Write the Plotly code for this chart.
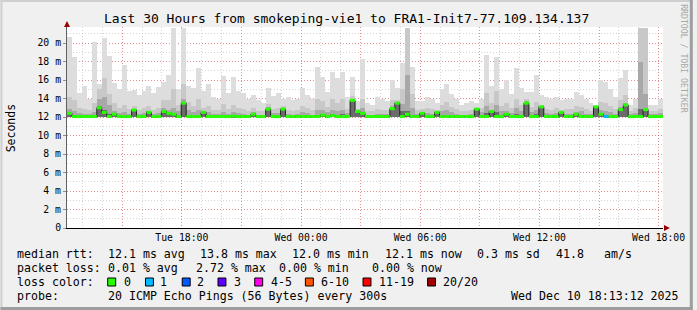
import plotly.graph_objects as go
import pandas as pd

# ---------------- data ----------------
START = "2025-12-09 12:13:12"
END = "2025-12-10 18:13:12"
STEP_MIN = 15

rtt_max = [
    20.7, 18.5, 14.6, 15.3, 14.0, 20.1, 15.6, 20.5, 18.6, 15.7,
    15.0, 17.6, 14.8, 14.9, 14.4, 14.8, 15.4, 14.6, 15.2, 15.8,
    16.5, 21.6, 15.0, 21.6, 15.4, 15.1, 17.3, 14.8, 15.6, 14.2,
    14.0, 16.4, 14.6, 16.3, 14.8, 14.6, 14.0, 14.4, 13.8, 13.5,
    15.1, 14.3, 14.6, 14.0, 14.2, 13.8, 14.0, 15.1, 14.4, 13.9,
    17.4, 16.3, 14.7, 16.9, 16.2, 16.9, 14.2, 16.3, 13.7, 18.3,
    13.5, 13.3, 14.2, 13.9, 13.7, 16.0, 15.1, 17.8, 21.6, 17.4,
    13.7, 13.7, 14.2, 14.0, 13.5, 15.0, 15.6, 14.5, 14.0, 13.3,
    13.5, 13.7, 13.5, 14.0, 18.7, 15.4, 18.5, 15.0, 16.0, 14.5,
    17.3, 15.1, 14.7, 14.7, 16.5, 14.4, 14.2, 14.0, 14.2, 13.8,
    14.0, 14.0, 14.7, 14.4, 14.0, 13.5, 13.3, 16.0, 15.8, 15.0,
    14.2, 16.2, 17.1, 13.3, 14.0, 21.6, 21.6, 13.3, 13.3, 14.0,
]
rtt_p19 = [
    14.2, 13.8, 13.0, 12.9, 12.8, 13.5, 15.0, 16.2, 14.5, 13.5,
    13.0, 13.3, 12.9, 13.2, 12.8, 13.0, 13.2, 12.8, 13.0, 13.8,
    13.8, 15.0, 13.3, 15.6, 13.6, 13.2, 14.0, 13.0, 13.2, 12.8,
    12.8, 13.4, 12.9, 13.3, 13.0, 12.9, 12.7, 13.0, 12.7, 12.7,
    13.4, 12.9, 13.0, 13.2, 12.8, 12.7, 12.8, 13.2, 13.0, 12.8,
    14.0, 13.7, 13.1, 13.9, 13.5, 14.0, 12.9, 14.3, 12.9, 14.0,
    12.7, 12.6, 12.9, 12.8, 12.8, 13.8, 13.8, 15.0, 21.6, 14.5,
    12.8, 12.9, 13.0, 12.9, 12.8, 13.3, 13.6, 13.1, 12.9, 12.6,
    12.7, 12.8, 12.9, 13.0, 14.6, 13.5, 14.8, 13.2, 13.5, 13.0,
    14.0, 13.3, 13.9, 13.1, 13.6, 13.3, 12.9, 12.8, 13.0, 12.8,
    12.9, 12.9, 13.2, 13.1, 12.9, 12.7, 13.0, 13.6, 13.5, 13.2,
    12.9, 13.8, 14.4, 12.7, 13.0, 21.6, 21.6, 12.7, 12.7, 12.9,
]
rtt_p17 = [
    12.9, 12.6, 12.4, 12.3, 12.3, 12.5, 14.0, 14.2, 13.3, 12.6,
    12.4, 12.5, 12.3, 12.9, 12.3, 12.4, 12.7, 12.3, 12.4, 13.0,
    12.8, 13.0, 12.6, 14.0, 12.8, 12.5, 12.8, 12.7, 12.5, 12.3,
    12.3, 12.5, 12.3, 12.5, 12.4, 12.3, 12.2, 12.5, 12.2, 12.2,
    13.1, 12.4, 12.4, 13.0, 12.3, 12.2, 12.3, 12.5, 12.4, 12.2,
    12.8, 12.8, 12.5, 12.8, 12.6, 12.8, 12.4, 14.0, 12.8, 13.0,
    12.2, 12.2, 12.3, 12.3, 12.3, 13.2, 13.6, 13.4, 16.5, 13.0,
    12.3, 12.5, 12.4, 12.3, 12.6, 12.6, 12.8, 12.5, 12.3, 12.2,
    12.2, 12.3, 13.0, 12.5, 13.2, 12.8, 13.3, 12.6, 12.6, 12.4,
    13.0, 12.6, 13.7, 12.5, 12.8, 13.2, 12.4, 12.3, 12.4, 12.6,
    12.3, 12.3, 12.5, 12.6, 12.3, 12.3, 13.1, 12.8, 12.6, 12.5,
    12.3, 13.1, 13.5, 12.3, 12.4, 18.0, 14.5, 12.3, 12.3, 12.4,
]
rtt_p14 = [
    12.5, 12.1, 12.0, 12.0, 12.0, 12.1, 13.2, 12.8, 12.3, 12.4,
    12.1, 12.1, 12.0, 12.8, 12.0, 12.1, 12.6, 12.0, 12.1, 12.7,
    12.5, 12.4, 12.1, 13.6, 12.2, 12.1, 12.2, 12.6, 12.1, 12.0,
    12.0, 12.1, 12.0, 12.1, 12.0, 12.0, 12.0, 12.3, 12.0, 12.0,
    12.9, 12.1, 12.0, 12.9, 12.0, 12.0, 12.0, 12.1, 12.1, 12.0,
    12.2, 12.3, 12.1, 12.3, 12.2, 12.3, 12.1, 13.9, 12.7, 12.5,
    12.0, 12.0, 12.0, 12.0, 12.0, 13.0, 13.5, 12.6, 12.6, 12.2,
    12.0, 12.4, 12.1, 12.0, 12.5, 12.2, 12.2, 12.1, 12.0, 12.0,
    12.0, 12.0, 12.9, 12.1, 12.4, 12.6, 12.5, 12.2, 12.3, 12.1,
    12.3, 12.2, 13.6, 12.2, 12.3, 13.1, 12.1, 12.0, 12.1, 12.5,
    12.0, 12.0, 12.3, 12.2, 12.0, 12.0, 13.1, 12.4, 12.2, 12.1,
    12.0, 12.8, 13.3, 12.0, 12.1, 12.9, 12.9, 12.0, 12.0, 12.0,
]
rtt_median = [
    12.4, 12.05, 12.05, 12.05, 12.05, 12.05, 13.0, 12.5, 12.05, 12.3,
    12.05, 12.05, 12.05, 12.75, 12.05, 12.05, 12.5, 12.05, 12.05, 12.6,
    12.4, 12.3, 12.05, 13.5, 12.05, 12.05, 12.05, 12.5, 12.05, 12.05,
    12.05, 12.05, 12.05, 12.1, 12.05, 12.05, 12.05, 12.3, 12.05, 12.05,
    12.85, 12.05, 12.05, 12.85, 12.05, 12.05, 12.05, 12.05, 12.05, 12.05,
    12.05, 12.2, 12.05, 12.15, 12.05, 12.05, 12.05, 13.8, 12.6, 12.4,
    12.05, 12.05, 12.05, 12.05, 12.05, 12.9, 13.5, 12.05, 12.3, 12.05,
    12.05, 12.4, 12.05, 12.05, 12.5, 12.05, 12.05, 12.05, 12.05, 12.05,
    12.05, 12.05, 12.85, 12.05, 12.05, 12.6, 12.05, 12.05, 12.3, 12.05,
    12.05, 12.05, 13.5, 12.05, 12.05, 13.1, 12.05, 12.05, 12.05, 12.5,
    12.05, 12.05, 12.3, 12.05, 12.05, 12.05, 13.1, 12.3, 12.05, 12.05,
    12.05, 12.8, 13.3, 12.05, 12.05, 12.05, 12.8, 12.05, 12.05, 12.05,
]
rtt_min = [
    11.95, 11.95, 11.95, 11.95, 11.95, 11.95, 11.95, 11.95, 11.95, 11.95,
    11.95, 11.95, 11.95, 11.95, 11.95, 11.95, 11.95, 11.95, 11.95, 11.95,
    11.95, 11.95, 11.95, 11.95, 11.95, 11.95, 11.95, 11.95, 11.95, 11.95,
    11.95, 11.95, 11.95, 11.95, 11.95, 11.95, 11.95, 11.95, 11.95, 11.95,
    11.95, 11.95, 11.95, 11.95, 11.95, 11.95, 11.95, 11.95, 11.95, 11.95,
    11.95, 11.95, 11.95, 11.95, 11.95, 11.95, 11.95, 11.95, 11.95, 11.95,
    11.95, 11.95, 11.95, 11.95, 11.95, 11.95, 11.95, 11.95, 11.95, 11.95,
    11.95, 11.95, 11.95, 11.95, 11.95, 11.95, 11.95, 11.95, 11.95, 11.95,
    11.95, 11.95, 11.95, 11.95, 11.95, 11.95, 11.95, 11.95, 11.95, 11.95,
    11.95, 11.95, 11.95, 11.95, 11.95, 11.95, 11.95, 11.95, 11.95, 11.95,
    11.95, 11.95, 11.95, 11.95, 11.95, 11.95, 11.95, 11.95, 11.95, 11.95,
    11.95, 11.95, 11.95, 11.95, 11.95, 11.95, 11.95, 11.95, 11.95, 11.95,
]
loss_pings = [
    0, 0, 0, 0, 0, 0, 0, 0, 0, 0,
    0, 0, 0, 0, 0, 0, 0, 0, 0, 0,
    0, 0, 0, 0, 0, 0, 0, 0, 0, 0,
    0, 0, 0, 0, 0, 0, 0, 0, 0, 0,
    0, 0, 0, 0, 0, 0, 0, 0, 0, 0,
    0, 0, 0, 0, 0, 0, 0, 0, 0, 0,
    0, 0, 0, 0, 0, 0, 0, 0, 0, 0,
    0, 0, 0, 0, 0, 0, 0, 0, 0, 0,
    0, 0, 0, 0, 0, 0, 0, 0, 0, 0,
    0, 0, 0, 0, 0, 0, 0, 0, 0, 0,
    0, 0, 0, 0, 0, 0, 0, 0, 1, 0,
    0, 0, 0, 0, 0, 0, 0, 0, 0, 0,
]

y_tick_vals = [0, 2, 4, 6, 8, 10, 12, 14, 16, 18, 20]
y_tick_text = ["0", "2 m", "4 m", "6 m", "8 m", "10 m", "12 m", "14 m", "16 m", "18 m", "20 m"]
x_tick_vals = ["2025-12-09 15:00", "2025-12-09 18:00", "2025-12-09 21:00", "2025-12-10 00:00",
               "2025-12-10 03:00", "2025-12-10 06:00", "2025-12-10 09:00", "2025-12-10 12:00",
               "2025-12-10 15:00", "2025-12-10 18:00"]
x_tick_text = ["", "Tue 18:00", "", "Wed 00:00", "", "Wed 06:00", "", "Wed 12:00", "", "Wed 18:00"]

loss_labels = ["0", "1", "2", "3", "4-5", "6-10", "11-19", "20/20"]
loss_label_colors = ["#26ff00", "#00b8ff", "#0059ff", "#5e00ff", "#ff00ea", "#ff5500", "#ff0000", "#a10000"]

title_text = "Last 30 Hours from smokeping-vie1 to FRA1-Init7-77.109.134.137"
median_row = ["median rtt:", "12.1 ms avg", "13.8 ms max", "12.0 ms min", "12.1 ms now", "0.3 ms sd", "41.8", "am/s"]
loss_row = ["packet loss:", "0.01 % avg", "2.72 % max", "0.00 % min", "0.00 % now"]
probe_row = ["probe:", "20 ICMP Echo Pings (56 Bytes) every 300s", "Wed Dec 10 18:13:12 2025"]
loss_color_title = "loss color:"

# ---------------- layout geometry (pixels) ----------------
W, H = 697, 310
PL, PR, PT, PB = 67, 667, 27, 228
Y_TOP = 21.73
FONT = "DejaVu Sans Mono"


def px(x):
    return (x - PL) / (PR - PL)


def py(y):
    return (PB - y) / (PB - PT)


def loss_color(n):
    if n == 0:
        return loss_label_colors[0]
    if n == 1:
        return loss_label_colors[1]
    if n == 2:
        return loss_label_colors[2]
    if n == 3:
        return loss_label_colors[3]
    if n <= 5:
        return loss_label_colors[4]
    if n <= 10:
        return loss_label_colors[5]
    if n <= 19:
        return loss_label_colors[6]
    return loss_label_colors[7]


times = list(pd.date_range(START, periods=len(rtt_max), freq=f"{STEP_MIN}min"))
edges = times + [pd.Timestamp(END)]
bw = STEP_MIN * 60 * 1000

fig = go.Figure()
smoke = [(rtt_max, "#dddddd"), (rtt_p19, "#c8c8c8"), (rtt_p17, "#a8a8a8"), (rtt_p14, "#6b6b6b")]
for arr, col in smoke:
    fig.add_trace(go.Bar(
        x=times, base=rtt_min, y=[hi - lo for hi, lo in zip(arr, rtt_min)],
        width=bw, offset=0, marker=dict(color=col, line=dict(width=0)),
        hoverinfo="skip", showlegend=False))

# thin dark median line (shows the jumps)
fig.add_trace(go.Scatter(
    x=edges, y=rtt_median + [rtt_median[-1]],
    mode="lines", line=dict(color="#202020", width=1, shape="hv"),
    hoverinfo="skip", showlegend=False))

# loss-coloured median band, one trace per colour
for col in loss_label_colors:
    xs, ys = [], []
    for i, (m, n) in enumerate(zip(rtt_median, loss_pings)):
        if loss_color(n) == col:
            xs += [edges[i], edges[i + 1], None]
            ys += [m, m, None]
    if xs:
        fig.add_trace(go.Scatter(
            x=xs, y=ys, mode="lines", line=dict(color=col, width=3),
            connectgaps=False, hoverinfo="skip", showlegend=False))

MAJ = "rgba(255,0,0,0.32)"
MIN = "rgba(160,160,160,0.45)"
DASH = "1px,2px"

fig.update_layout(
    width=W, height=H,
    margin=dict(l=PL, r=W - PR, t=PT, b=H - PB),
    paper_bgcolor="#f0f0f0", plot_bgcolor="#ffffff",
    barmode="overlay", bargap=0,
    font=dict(family=FONT, color="#000000"),
    showlegend=False,
    xaxis=dict(
        type="date", range=[START, END],
        tickvals=x_tick_vals, ticktext=x_tick_text,
        tickfont=dict(size=9.8, family=FONT, color="#000"),
        showgrid=True, gridcolor=MAJ, griddash=DASH, gridwidth=1,
        minor=dict(dtick=3600000, tick0="2025-12-09 13:00", showgrid=True,
                   gridcolor=MIN, griddash=DASH, gridwidth=1),
        showline=True, linecolor="#000000", linewidth=1,
        ticks="", zeroline=False, fixedrange=True,
    ),
    yaxis=dict(
        range=[0, Y_TOP], tickvals=y_tick_vals, ticktext=y_tick_text,
        tickfont=dict(size=9.8, family=FONT, color="#000"),
        showgrid=True, gridcolor=MAJ, griddash=DASH, gridwidth=1,
        minor=dict(dtick=1, tick0=0, showgrid=True, gridcolor=MIN, griddash=DASH, gridwidth=1),
        showline=True, linecolor="#606060", linewidth=1,
        ticks="outside", ticklen=3, tickcolor="#909090",
        zeroline=False, fixedrange=True,
    ),
)

shapes = []
# bevel frame
shapes.append(dict(type="rect", xref="paper", yref="paper", x0=px(0), x1=px(W), y0=py(0), y1=py(2),
                   fillcolor="#cfcfcf", line=dict(width=0), layer="above"))
shapes.append(dict(type="rect", xref="paper", yref="paper", x0=px(0), x1=px(2), y0=py(0), y1=py(H),
                   fillcolor="#cfcfcf", line=dict(width=0), layer="above"))
shapes.append(dict(type="rect", xref="paper", yref="paper", x0=px(0), x1=px(W), y0=py(H - 3), y1=py(H),
                   fillcolor="#9e9e9e", line=dict(width=0), layer="above"))
shapes.append(dict(type="rect", xref="paper", yref="paper", x0=px(W - 3), x1=px(W), y0=py(0), y1=py(H),
                   fillcolor="#9e9e9e", line=dict(width=0), layer="above"))
# axis arrows
shapes.append(dict(type="path", xref="paper", yref="paper",
                   path=f"M {px(64)},{py(27)} L {px(70)},{py(27)} L {px(67)},{py(21)} Z",
                   fillcolor="#990000", line=dict(width=0), layer="above"))
shapes.append(dict(type="path", xref="paper", yref="paper",
                   path=f"M {px(668)},{py(225)} L {px(668)},{py(231)} L {px(674)},{py(228)} Z",
                   fillcolor="#990000", line=dict(width=0), layer="above"))
# loss colour boxes
box_x = [108, 146, 183, 219, 256, 307, 365, 430]
for bx, col in zip(box_x, loss_label_colors):
    shapes.append(dict(type="rect", xref="paper", yref="paper",
                       x0=px(bx), x1=px(bx + 8), y0=py(278), y1=py(286),
                       fillcolor=col, line=dict(color="#000000", width=1), layer="above"))
fig.update_layout(shapes=shapes)

ann = []


def text(x, y, s, size=11.6, anchor="left", color="#000000", angle=0):
    ann.append(dict(x=px(x), y=py(y), xref="paper", yref="paper", text=s, showarrow=False,
                    xanchor=anchor, yanchor="middle", textangle=angle, borderpad=0,
                    font=dict(family=FONT, size=size, color=color)))


text(348, 19, title_text, size=13, anchor="center")
text(11, 128, "Seconds", size=11.5, anchor="center", angle=-90)
text(688, 59, "RRDTOOL / TOBI OETIKER", size=8.2, anchor="center", color="#a8a8a8", angle=90)

for x, s in zip([16, 107, 200, 293, 386, 479, 558, 607], median_row):
    text(x, 254, s)
for x, s in zip([16, 107, 196, 279, 373], loss_row):
    text(x, 268, s)
text(16, 282, loss_color_title)
for x, s in zip([123, 160, 197, 234, 271, 322, 380, 445], loss_labels):
    text(x, 282, s)
for x, s in zip([16, 107, 513], probe_row):
    text(x, 296, s)

fig.update_layout(annotations=ann)
fig.write_html("out.html")
